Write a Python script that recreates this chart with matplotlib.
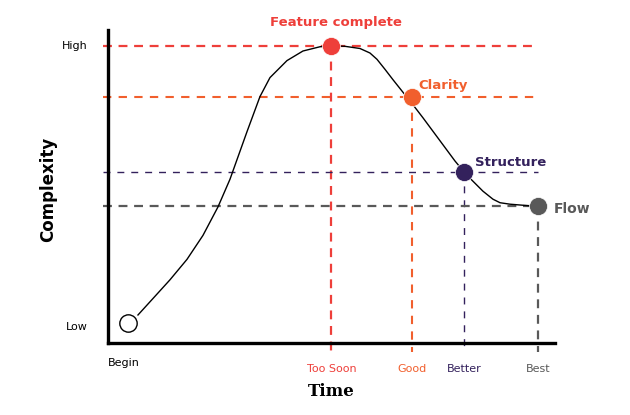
import matplotlib.pyplot as plt

# milestones on the curve (time, complexity), values in 0..10 units
names = ['Begin', 'Feature complete', 'Clarity', 'Structure', 'Flow']
mx = [0.45, 5.0, 6.8, 7.96, 9.62]
my = [0.64, 9.49, 7.86, 5.46, 4.38]
colors = ['white', '#ee3f3a', '#f15f2d', '#33215c', '#595959']

xlabels = ['Too Soon', 'Good', 'Better', 'Best']

# the curve, points
cx = [0.671, 1.007, 1.387, 1.767, 2.125, 2.461, 2.729, 3.110, 3.400, 3.624,
      4.004, 4.362, 4.743, 5.0, 5.302, 5.638, 5.861, 6.018, 6.197, 6.376,
      6.577, 6.801, 7.047, 7.427, 7.763, 7.964, 8.143, 8.389, 8.613, 8.770,
      8.993, 9.441, 9.620]
cy = [0.895, 1.422, 2.019, 2.671, 3.438, 4.348, 5.230, 6.751, 7.872, 8.479,
      9.022, 9.329, 9.465, 9.495, 9.479, 9.409, 9.265, 9.064, 8.744, 8.412,
      8.051, 7.652, 7.195, 6.463, 5.815, 5.470, 5.201, 4.850, 4.594, 4.482,
      4.435, 4.383, 4.377]

fig = plt.figure(figsize=(6.3, 4.15), dpi=100)
ax = fig.add_axes([0.1714, 0.1735, 0.7095, 0.7542])
ax.set_xlim(0, 10)
ax.set_ylim(0, 10)
for s in ['top', 'right']:
    ax.spines[s].set_visible(False)
for s in ['left', 'bottom']:
    ax.spines[s].set_linewidth(2.4)
ax.set_xticks([])
ax.set_yticks([])

# guide lines
styles = [None, (1.6, (4, 3)), (1.5, (4, 3.5)), (1.0, (5, 5)), (1.6, (4, 3))]
for i in range(1, 5):
    lw, dash = styles[i]
    ax.plot([-0.11, mx[4]], [my[i], my[i]], color=colors[i], lw=lw,
            linestyle=(0, dash), clip_on=False, zorder=1)
    ax.plot([mx[i], mx[i]], [my[i], -0.29], color=colors[i], lw=lw,
            linestyle=(0, dash), clip_on=False, zorder=1)

ax.plot(cx, cy, color='black', lw=1.0, zorder=2, solid_joinstyle='round')

ax.plot(mx[0], my[0], 'o', ms=12.5, mfc='white', mec='black', mew=1.0, zorder=3)
for i in range(1, 5):
    ax.plot(mx[i], my[i], 'o', ms=13, color=colors[i], mec='white', mew=0.5,
            zorder=3, clip_on=False)

# point labels
ax.text(mx[1] + 0.1, 10.25, names[1], color=colors[1], fontsize=9.5,
        fontweight='bold', ha='center', va='center')
ax.text(mx[2] + 0.15, my[2] + 0.38, names[2], color=colors[2], fontsize=9.5,
        fontweight='bold', ha='left', va='center')
ax.text(mx[3] + 0.25, my[3] + 0.32, names[3], color=colors[3], fontsize=9.5,
        fontweight='bold', ha='left', va='center')
ax.text(mx[4] + 0.35, my[4] - 0.1, names[4], color=colors[4], fontsize=10,
        fontweight='bold', ha='left', va='center')

# axis labels
ax.text(0.0, -0.65, 'Begin', fontsize=8, ha='left', va='center')
for i in range(1, 5):
    ax.text(mx[i], -0.82, xlabels[i - 1], color=colors[i], fontsize=8,
            ha='center', va='center')
ax.text(-0.45, my[1], 'High', fontsize=8, ha='right', va='center')
ax.text(-0.45, 0.5, 'Low', fontsize=8, ha='right', va='center')

ax.text(5.0, -1.55, 'Time', fontsize=12, family='DejaVu Serif',
        fontweight='bold', ha='center', va='center')
ax.text(-1.35, 4.9, 'Complexity', fontsize=12, fontweight='bold',
        ha='center', va='center', rotation=90)

plt.savefig('out.png', dpi=100)
